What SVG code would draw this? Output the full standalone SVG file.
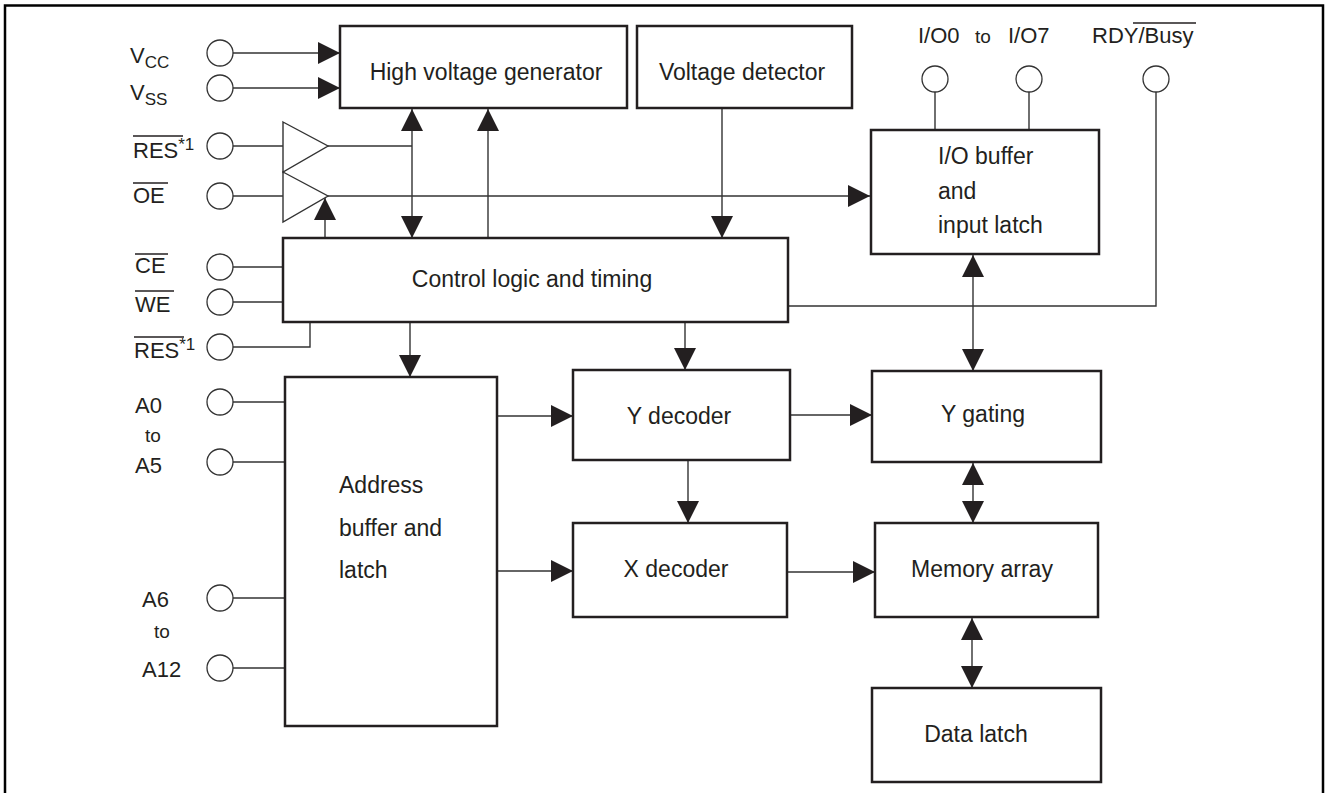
<svg xmlns="http://www.w3.org/2000/svg" width="1330" height="793" viewBox="0 0 1330 793">
<style>
.box{fill:#fff;stroke:#231f20;stroke-width:2.5}
.ln{fill:none;stroke:#333;stroke-width:1.4}
.pin{fill:#fff;stroke:#333;stroke-width:1.3}
.buf{fill:#fff;stroke:#333;stroke-width:1.4}
.t{font-family:"Liberation Sans",Arial,sans-serif;font-size:22px;fill:#231f20}
.b{font-size:23px}
.c{text-anchor:middle}
.s{font-size:19px}
.ov{stroke:#231f20;stroke-width:1.4}
</style>
<defs>
<marker id="ah" viewBox="0 0 22 22" refX="22" refY="11" markerWidth="22" markerHeight="22" markerUnits="userSpaceOnUse" orient="auto-start-reverse">
<path d="M0,0 L22,11 L0,22 z" fill="#231f20"/>
</marker>
</defs>
<rect width="1330" height="793" fill="#fff"/>
<path d="M5,793 V5.5 H1323 V793" fill="none" stroke="#000" stroke-width="2.5"/>

<g id="connectors">
<line class="ln" x1="233" y1="53" x2="340" y2="53" marker-end="url(#ah)"/>
<line class="ln" x1="233" y1="88" x2="340" y2="88" marker-end="url(#ah)"/>
<line class="ln" x1="233" y1="146" x2="283" y2="146"/>
<line class="ln" x1="233" y1="196" x2="283" y2="196"/>
<line class="ln" x1="328" y1="146" x2="412" y2="146"/>
<line class="ln" x1="412" y1="109" x2="412" y2="238" marker-start="url(#ah)" marker-end="url(#ah)"/>
<line class="ln" x1="488" y1="238" x2="488" y2="109" marker-end="url(#ah)"/>
<line class="ln" x1="328" y1="196" x2="870" y2="196" marker-end="url(#ah)"/>
<line class="ln" x1="325" y1="238" x2="325" y2="198" marker-end="url(#ah)"/>
<line class="ln" x1="722" y1="108" x2="722" y2="238" marker-end="url(#ah)"/>
<line class="ln" x1="233" y1="267" x2="283" y2="267"/>
<line class="ln" x1="233" y1="302" x2="283" y2="302"/>
<polyline class="ln" points="233,347 310,347 310,322"/>
<line class="ln" x1="410" y1="322" x2="410" y2="377" marker-end="url(#ah)"/>
<line class="ln" x1="685" y1="322" x2="685" y2="370" marker-end="url(#ah)"/>
<polyline class="ln" points="1156,92 1156,306 788,306"/>
<line class="ln" x1="935" y1="92" x2="935" y2="130"/>
<line class="ln" x1="1029" y1="92" x2="1029" y2="130"/>
<line class="ln" x1="973" y1="255" x2="973" y2="371" marker-start="url(#ah)" marker-end="url(#ah)"/>
<line class="ln" x1="497" y1="416" x2="573" y2="416" marker-end="url(#ah)"/>
<line class="ln" x1="497" y1="571" x2="573" y2="571" marker-end="url(#ah)"/>
<line class="ln" x1="688" y1="460" x2="688" y2="523" marker-end="url(#ah)"/>
<line class="ln" x1="790" y1="415" x2="872" y2="415" marker-end="url(#ah)"/>
<line class="ln" x1="787" y1="572" x2="875" y2="572" marker-end="url(#ah)"/>
<line class="ln" x1="973" y1="463" x2="973" y2="523" marker-start="url(#ah)" marker-end="url(#ah)"/>
<line class="ln" x1="972" y1="618" x2="972" y2="688" marker-start="url(#ah)" marker-end="url(#ah)"/>
<line class="ln" x1="233" y1="402" x2="285" y2="402"/>
<line class="ln" x1="233" y1="462" x2="285" y2="462"/>
<line class="ln" x1="233" y1="598" x2="285" y2="598"/>
<line class="ln" x1="233" y1="668" x2="285" y2="668"/>
</g>

<g id="hv-gen"><rect class="box" x="340" y="26" width="287" height="82"/><text class="t b c" x="486" y="80">High voltage generator</text></g>
<g id="volt-det"><rect class="box" x="637" y="26" width="215" height="82"/><text class="t b c" x="742" y="80">Voltage detector</text></g>
<g id="io-buffer"><rect class="box" x="871" y="130" width="228" height="124"/>
<text class="t b" x="938" y="164">I/O buffer</text><text class="t b" x="938" y="199">and</text><text class="t b" x="938" y="233">input latch</text></g>
<g id="control"><rect class="box" x="283" y="238" width="505" height="84"/><text class="t b c" x="532" y="287">Control logic and timing</text></g>
<g id="address"><rect class="box" x="285" y="377" width="212" height="349"/>
<text class="t b" x="339" y="493">Address</text><text class="t b" x="339" y="536">buffer and</text><text class="t b" x="339" y="578">latch</text></g>
<g id="y-decoder"><rect class="box" x="573" y="370" width="217" height="90"/><text class="t b c" x="679" y="424">Y decoder</text></g>
<g id="x-decoder"><rect class="box" x="573" y="523" width="214" height="94"/><text class="t b c" x="676" y="577">X decoder</text></g>
<g id="y-gating"><rect class="box" x="872" y="371" width="229" height="91"/><text class="t b c" x="983" y="422">Y gating</text></g>
<g id="memory"><rect class="box" x="875" y="523" width="223" height="94"/><text class="t b c" x="982" y="577">Memory array</text></g>
<g id="data-latch"><rect class="box" x="872" y="688" width="229" height="94"/><text class="t b c" x="976" y="742">Data latch</text></g>

<g id="buffer-res"><polygon class="buf" points="283,122 328,146 283,172"/></g>
<g id="buffer-oe"><polygon class="buf" points="283,172 328,196 283,222"/></g>

<g id="pins">
<circle class="pin" cx="220" cy="53" r="13"/>
<circle class="pin" cx="220" cy="88" r="13"/>
<circle class="pin" cx="220" cy="146" r="13"/>
<circle class="pin" cx="220" cy="196" r="13"/>
<circle class="pin" cx="220" cy="267" r="13"/>
<circle class="pin" cx="220" cy="302" r="13"/>
<circle class="pin" cx="220" cy="347" r="13"/>
<circle class="pin" cx="220" cy="402" r="13"/>
<circle class="pin" cx="220" cy="462" r="13"/>
<circle class="pin" cx="220" cy="598" r="13"/>
<circle class="pin" cx="220" cy="668" r="13"/>
<circle class="pin" cx="935" cy="79" r="13"/>
<circle class="pin" cx="1029" cy="79" r="13"/>
<circle class="pin" cx="1156" cy="79" r="13"/>
</g>

<g id="pin-labels">
<text class="t" x="130" y="63">V<tspan font-size="17" dy="5">CC</tspan></text>
<text class="t" x="130" y="100">V<tspan font-size="17" dy="5">SS</tspan></text>
<text class="t" x="133" y="158">RES<tspan font-size="17" dy="-8">*1</tspan></text>
<line class="ov" x1="133" y1="136" x2="183" y2="136"/>
<text class="t" x="133" y="203">OE</text>
<line class="ov" x1="133" y1="183" x2="168" y2="183"/>
<text class="t" x="135" y="273">CE</text>
<line class="ov" x1="135" y1="254" x2="168" y2="254"/>
<text class="t" x="135" y="312">WE</text>
<line class="ov" x1="135" y1="291" x2="174" y2="291"/>
<text class="t" x="134" y="358">RES<tspan font-size="17" dy="-8">*1</tspan></text>
<line class="ov" x1="134" y1="337" x2="184" y2="337"/>
<text class="t" x="135" y="413">A0</text>
<text class="t s" x="145" y="442">to</text>
<text class="t" x="135" y="473">A5</text>
<text class="t" x="142" y="607">A6</text>
<text class="t s" x="154" y="638">to</text>
<text class="t" x="142" y="677">A12</text>
<text class="t" x="918" y="43">I/O0</text>
<text class="t s" x="975" y="43">to</text>
<text class="t" x="1008" y="43">I/O7</text>
<text class="t" x="1092" y="43">RDY/Busy</text>
<line class="ov" x1="1133" y1="23" x2="1196" y2="23"/>
</g>
</svg>
